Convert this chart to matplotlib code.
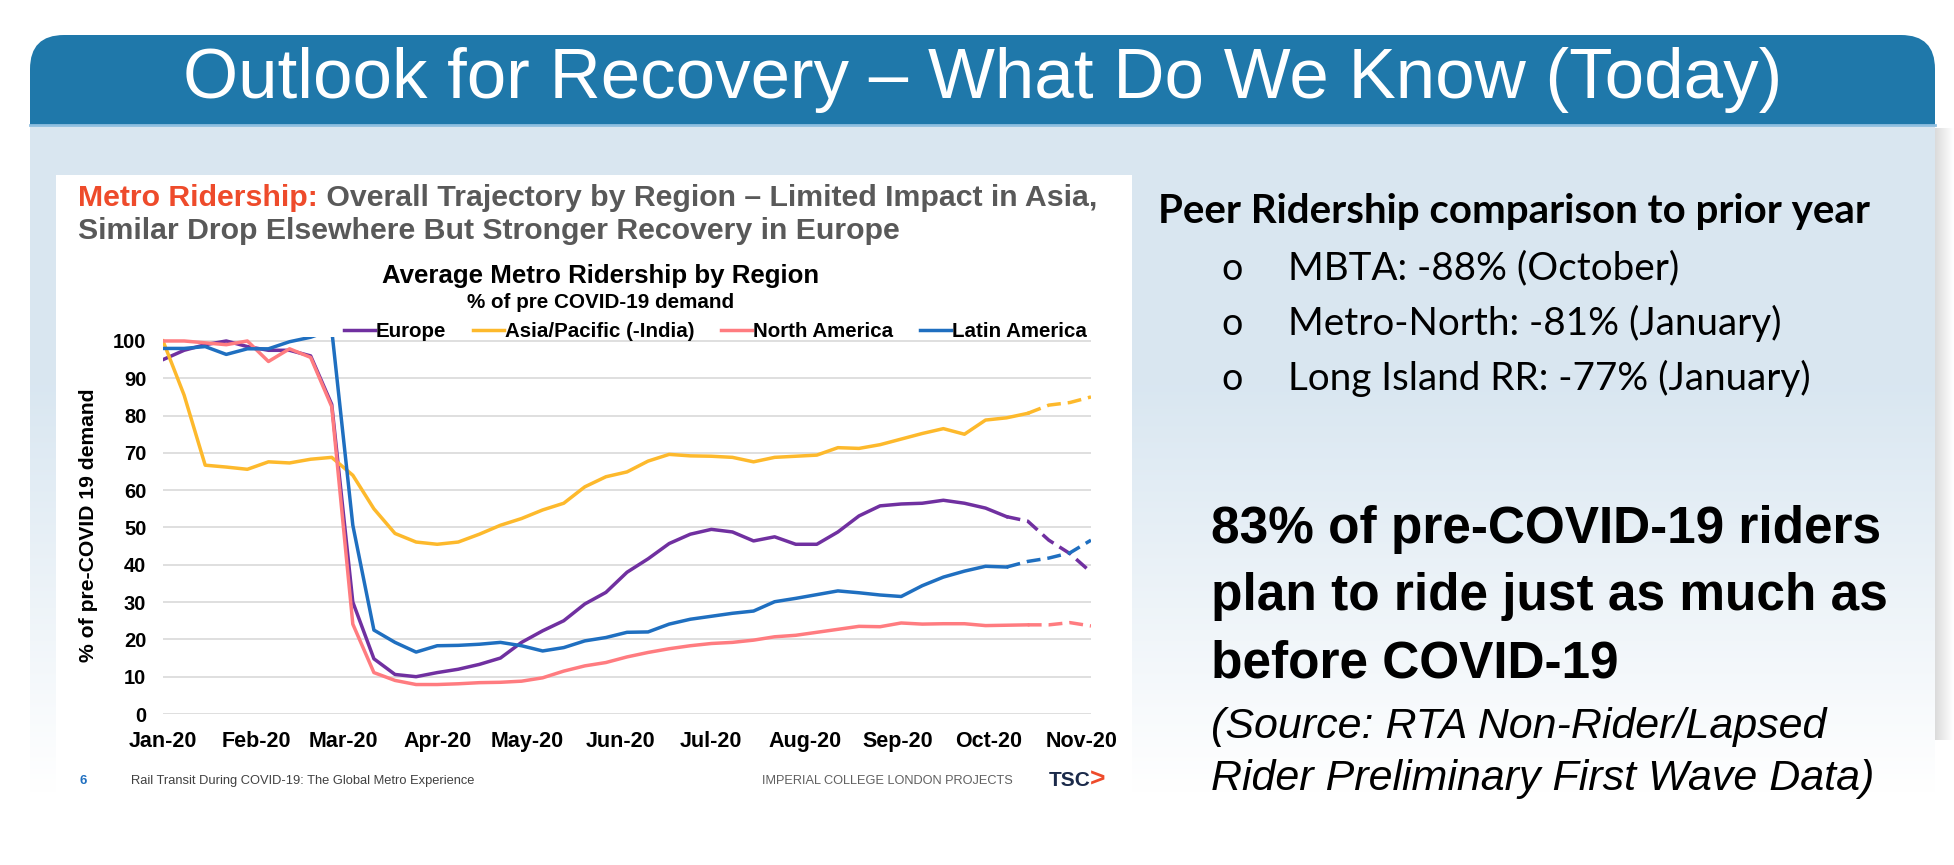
import matplotlib
matplotlib.use('Agg')
import matplotlib.pyplot as plt
import matplotlib.dates as mdates
import numpy as np
import pandas as pd
from matplotlib.patches import FancyBboxPatch, Rectangle

# weekly readings, % of pre COVID-19 demand
weeks = pd.date_range('2020-01-01', periods=45, freq='7D')

europe = [95, 97.5, 99, 100, 98.5, 97.5, 97.5, 96, 83, 30,
          14.8, 10.6, 10.0, 11.1, 12, 13.3, 15, 19.2, 22.3, 25,
          29.5, 32.6, 38, 41.6, 45.7, 48.2, 49.5, 48.8, 46.4, 47.5,
          45.5, 45.5, 48.8, 53.1, 55.8, 56.3, 56.5, 57.3, 56.5, 55.2,
          52.9, 51.7, 46.6, 43, 38]
asia = [100, 85.5, 66.7, 66.2, 65.6, 67.6, 67.3, 68.3, 68.8, 64,
        55, 48.4, 46.1, 45.5, 46.1, 48.2, 50.6, 52.4, 54.7, 56.5,
        60.9, 63.6, 64.9, 67.8, 69.6, 69.2, 69.1, 68.8, 67.6, 68.8,
        69.1, 69.4, 71.4, 71.2, 72.2, 73.7, 75.2, 76.5, 75, 78.8,
        79.4, 80.6, 82.8, 83.5, 85]
north_america = [100, 100, 99.5, 99, 100, 94.5, 97.9, 95.6, 82.4, 24.1,
                 11.1, 9, 7.9, 7.9, 8.1, 8.4, 8.5, 8.8, 9.7, 11.5,
                 12.9, 13.8, 15.3, 16.5, 17.5, 18.3, 18.9, 19.2, 19.8, 20.7,
                 21.1, 21.9, 22.7, 23.5, 23.4, 24.4, 24.1, 24.2, 24.2, 23.7,
                 23.8, 23.9, 23.9, 24.5, 23.6]
latin_america = [98, 98, 98.5, 96.4, 97.9, 97.9, 99.8, 101, 103, 50.6,
                 22.5, 19.2, 16.6, 18.3, 18.4, 18.7, 19.2, 18.3, 16.9, 17.8,
                 19.6, 20.5, 21.9, 22, 24.1, 25.4, 26.2, 27, 27.6, 30.1,
                 31, 32, 33, 32.5, 31.9, 31.5, 34.4, 36.7, 38.3, 39.6,
                 39.4, 40.9, 41.8, 43.2, 46.6]

series_names = ['Europe', 'Asia/Pacific (-India)', 'North America', 'Latin America']
# last week of actuals, after that the line is a projection (dashed)
last_actual = ['2020-10-07', '2020-10-14', '2020-10-14', '2020-10-07']

peer_lines = ['MBTA: -88% (October)',
              'Metro-North: -81% (January)',
              'Long Island RR: -77% (January)']
key_lines = ['83% of pre-COVID-19 riders',
             'plan to ride just as much as',
             'before COVID-19']
source_lines = ['(Source: RTA Non-Rider/Lapsed',
                'Rider Preliminary First Wave Data)']

colors = ['#7030a0', '#fdb92c', '#ff7c80', '#1f6fc0']
calibri_like = ['Lato', 'DejaVu Sans']
plt.rcParams['font.family'] = ['Liberation Sans', 'DejaVu Sans']

W, H = 1954, 865
fig = plt.figure(figsize=(W / 100, H / 100), dpi=100)
fig.patch.set_facecolor('white')

# background in pixel coords (y down)
bg = fig.add_axes([0, 0, 1, 1])
bg.axis('off')

# header bar
bg.add_patch(FancyBboxPatch((30, 35), 1905, 160, boxstyle='round,pad=0,rounding_size=34',
                            fc='#1f78aa', ec='none', zorder=1))
# light panel fading to white
rows = np.linspace(0, 1, 300)
fade = np.clip((rows - 0.35) / 0.55, 0, 1)[:, None]
top = np.array([0.851, 0.904, 0.945])
grad = top * (1 - fade) + np.ones(3) * fade
bg.imshow(grad[:, None, :], extent=[30, 1935, 865, 125], aspect='auto', zorder=2)
bg.plot([30, 1935], [125, 125], color='#8fbfe0', lw=2, zorder=3)
# right edge shadow
shade = np.linspace(0.86, 1.0, 20)
sh = np.stack([shade, shade, shade], axis=-1)[None, :, :]
bg.imshow(sh, extent=[1935, 1954, 740, 128], aspect='auto', zorder=2)
bg.set_xlim(0, W)
bg.set_ylim(H, 0)

bg.text(983, 80, 'Outlook for Recovery \u2013 What Do We Know (Today)', color='white',
        fontsize=51, ha='center', va='center', zorder=4)

# white box holding the chart
bg.add_patch(Rectangle((56, 175), 1076, 627, fc='white', ec='none', zorder=3))

t1 = bg.text(78, 198, 'Metro Ridership:', color='#ee4b2b', fontsize=21.8, weight='bold',
             va='center', zorder=4)
bg.annotate(' Overall Trajectory by Region \u2013 Limited Impact in Asia,', xy=(1, 0), xycoords=t1,
            va='bottom', ha='left', color='#595959', fontsize=21.8, weight='bold', zorder=4)
bg.text(78, 231, 'Similar Drop Elsewhere But Stronger Recovery in Europe', color='#595959',
        fontsize=21.8, weight='bold', va='center', zorder=4)
bg.text(601, 276, 'Average Metro Ridership by Region', fontsize=18.6, weight='bold',
        ha='center', va='center', zorder=4)
bg.text(601, 302, '% of pre COVID-19 demand', fontsize=14.9, weight='bold',
        ha='center', va='center', zorder=4)

# footer of the chart slide
bg.text(79, 781, '6', color='#1f6fc0', fontsize=9.5, weight='bold', va='center', zorder=4)
bg.text(131, 781, 'Rail Transit During COVID-19: The Global Metro Experience', color='#404040',
        fontsize=9.3, va='center', zorder=4)
bg.text(762, 781, 'IMPERIAL COLLEGE LONDON PROJECTS', color='#606060', fontsize=9.2,
        va='center', zorder=4)
bg.text(1049, 780, 'TSC', color='#1b2a4a', fontsize=15, weight='bold', va='center', zorder=4)
bg.text(1090, 780, '>', color='#ee4b2b', fontsize=19, weight='bold', va='center', zorder=4)

# right hand text
bg.text(1158, 212, 'Peer Ridership comparison to prior year', family=calibri_like,
        weight='bold', fontsize=29, va='center', zorder=4)
for i, line in enumerate(peer_lines):
    y = 268 + 55 * i
    bg.text(1232, y + 1, 'o', family=calibri_like, fontsize=27, ha='center',
            va='center', zorder=4)
    bg.text(1288, y, line, family=calibri_like, fontsize=27.8, va='center', zorder=4)

for i, line in enumerate(key_lines):
    bg.text(1211, 529 + 67.5 * i, line, weight='bold', fontsize=37,
            va='center', zorder=4)
for i, line in enumerate(source_lines):
    bg.text(1211, 727 + 52 * i, line, style='italic', fontsize=31,
            va='center', zorder=4)

# the chart itself
ax = fig.add_axes([163 / W, (H - 714) / H, (1091 - 163) / W, (714 - 336.5) / H], zorder=5)
ax.patch.set_alpha(0)
for vals, name, col, cut in zip([europe, asia, north_america, latin_america],
                                series_names, colors, last_actual):
    s = pd.Series(vals, index=weeks)
    ax.plot(s[:cut].index, s[:cut].values, color=col, lw=2.5, label=name,
            solid_joinstyle='round')
    ax.plot(s[cut:].index, s[cut:].values, color=col, lw=2.5, dashes=(4, 2))

ax.set_xlim(weeks[0], weeks[-1])
ax.set_ylim(0, 101.2)
ax.set_yticks(range(0, 101, 10))
ax.xaxis.set_major_locator(mdates.MonthLocator())
ax.xaxis.set_major_formatter(mdates.DateFormatter('%b-%y'))
ax.tick_params(length=0)
ax.tick_params(axis='x', pad=12, labelsize=15.5)
ax.tick_params(axis='y', pad=12, labelsize=14.5)
for lab in ax.get_xticklabels() + ax.get_yticklabels():
    lab.set_fontweight('bold')
ax.yaxis.grid(True, color='#d9d9d9', lw=1.2)
ax.set_axisbelow(True)
for sp in ax.spines.values():
    sp.set_visible(False)
ax.set_ylabel('% of pre-COVID 19 demand', fontsize=15.2, weight='bold', labelpad=11)

ax.legend(loc='center', bbox_to_anchor=(0.595, 1.014), ncol=4, frameon=False,
          prop={'weight': 'bold', 'size': 14.8}, handlelength=1.5, handletextpad=0.05,
          columnspacing=1.3, borderpad=0, borderaxespad=0)

fig.savefig('out.png', dpi=100, facecolor='white')
